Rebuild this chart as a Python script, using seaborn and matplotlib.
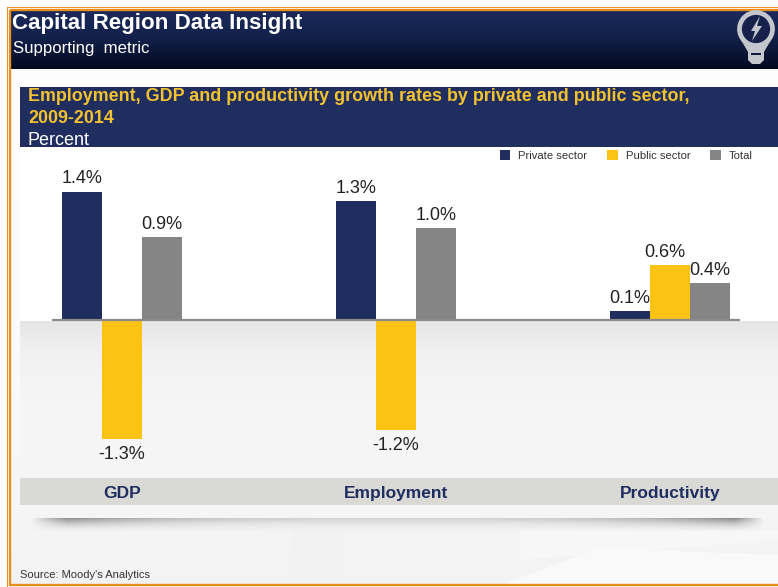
import numpy as np
import pandas as pd
import matplotlib
matplotlib.use("Agg")
import matplotlib.pyplot as plt
from matplotlib.patches import Rectangle, Circle, Polygon
import seaborn as sns

# Values
categories = ["GDP", "Employment", "Productivity"]
sectors = ["Private sector", "Public sector", "Total"]
private_sector = [1.4, 1.3, 0.1]
public_sector = [-1.3, -1.2, 0.6]
total = [0.9, 1.0, 0.4]
colors = ["#1f2d5f", "#fcc214", "#858585"]

df = pd.DataFrame({
    "category": categories * 3,
    "sector": [sectors[0]] * 3 + [sectors[1]] * 3 + [sectors[2]] * 3,
    "value": private_sector + public_sector + total,
})

sns.set_style("white")
plt.rcParams["font.family"] = ["Liberation Sans", "DejaVu Sans"]

W, H = 778, 587
fig = plt.figure(figsize=(W / 100, H / 100), dpi=100)
fig.patch.set_facecolor("white")

# Background layer in pixel coordinates
bg = fig.add_axes([0, 0, 1, 1], zorder=0)
bg.set_xlim(0, W)
bg.set_ylim(H, 0)
bg.axis("off")


def vgrad(ax, x0, x1, y0, y1, stops, z=1):
    ys = np.linspace(0, 1, 200)
    pos = [s[0] for s in stops]
    rgb = np.array([matplotlib.colors.to_rgb(s[1]) for s in stops])
    img = np.stack([np.interp(ys, pos, rgb[:, i]) for i in range(3)], axis=1)[:, None, :]
    ax.imshow(img, extent=(x0, x1, y1, y0), aspect="auto", zorder=z, interpolation="bilinear")


# page body
vgrad(bg, 11, W, 69, 585, [(0, "#fdfdfd"), (0.5, "#fbfbfb"), (1, "#f3f3f3")])
# plot panel: white on top, grey fade under the zero line
bg.add_patch(Rectangle((20, 147), W - 20, 174, fc="white", ec="none", zorder=2))
vgrad(bg, 20, W, 321, 478, [(0, "#e6e6e6"), (0.2, "#f1f1f1"), (0.5, "#f5f5f5"), (1, "#f6f6f6")], z=2)
# faint texture in the lower part
bg.add_patch(Polygon([[290, 530], [345, 530], [345, 585], [290, 585]], fc="#f2f2f2", ec="none", zorder=3))
bg.add_patch(Polygon([[520, 530], [778, 530], [778, 540], [520, 560]], fc="#f7f7f7", ec="none", zorder=3))
bg.add_patch(Polygon([[500, 585], [600, 548], [778, 555], [778, 585]], fc="#f9f9f9", ec="none", zorder=3))

# category strip and the shadow below it
bg.add_patch(Rectangle((20, 478), W - 20, 27, fc="#d9d9d6", ec="none", zorder=4))
bg.add_patch(Rectangle((20, 505), W - 20, 13, fc="#f5f5f5", ec="none", zorder=4))
ys = np.linspace(0, 1, 40)
xs = np.linspace(0, 1, 300)
edge = np.clip(xs / 0.05, 0, 1) * np.clip((1 - xs) / 0.04, 0, 1)
alpha = np.outer((1 - ys) ** 2, edge * (0.18 + 0.5 * np.abs(2 * xs - 1) ** 3))
shadow = np.zeros((40, 300, 4))
shadow[..., :3] = 0.2
shadow[..., 3] = alpha
bg.imshow(shadow, extent=(30, 765, 534, 518), aspect="auto", zorder=5)

# header bands
vgrad(bg, 11, W, 10, 69, [(0, "#1b2a5c"), (0.45, "#14214b"), (1, "#020a20")], z=6)
bg.add_patch(Rectangle((20, 87), W - 20, 60, fc="#1f2d5f", ec="none", zorder=6))

# orange frame
bg.add_patch(Rectangle((10, 10), W + 20, 575, fc="none", ec="#e88e1c", lw=1.7, zorder=8))
bg.plot([7, W], [6.8, 6.8], color="#e88e1c", lw=0.7, zorder=8)
bg.plot([7, 7], [6.8, H], color="#e88e1c", lw=0.7, zorder=8)

# light bulb icon
icon = "#c3c6cc"
bg.add_patch(Polygon([[741, 40], [771, 40], [764, 52], [764, 60], [760, 64], [752, 64], [748, 60], [748, 52]],
                     fc=icon, ec="none", zorder=9))
bg.add_patch(Circle((756, 29), 16.5, fc="#16224c", ec=icon, lw=3.4, zorder=9))
bg.add_patch(Rectangle((751, 52.5), 10, 2.5, fc="#10193a", ec="none", zorder=10))
bg.add_patch(Polygon([[760, 16], [751, 31], [755, 31], [752, 41], [762, 26], [757, 26]], fc=icon, ec="none", zorder=10))

bg.set_xlim(0, W)
bg.set_ylim(H, 0)

# Header text
bg.text(12, 23, "Capital Region Data Insight", color="white", fontsize=16.1, fontweight="bold", va="center", zorder=11)
bg.text(13, 48, "Supporting  metric", color="white", fontsize=12.1, va="center", zorder=11)
bg.text(28, 101, "Employment, GDP and productivity growth rates by private and public sector,",
        color="#f2c230", fontsize=12.85, fontweight="bold", va="baseline", zorder=11)
bg.text(28, 123, "2009-2014", color="#f2c230", fontsize=12.85, fontweight="bold", va="baseline", zorder=11)
bg.text(28, 145, "Percent", color="white", fontsize=13, va="baseline", zorder=11)
bg.text(20, 575, "Source: Moody's Analytics", color="#333333", fontsize=8, va="center", zorder=11)

# Bars
ax = fig.add_axes([52 / W, 1 - 478 / H, (740 - 52) / W, (478 - 148) / H], zorder=2)
ax.patch.set_alpha(0)
sns.barplot(data=df, x="category", y="value", hue="sector", order=categories, hue_order=sectors,
            palette=colors, saturation=1, width=0.438, gap=0, errorbar=None, linewidth=0, ax=ax)
ax.set_xlim(-0.2555, 2.2555)
ax.set_ylim(-1.723, 1.876)
sns.despine(ax=ax, left=True, bottom=True)
ax.set_xlabel("")
ax.set_ylabel("")
ax.set_yticks([])
ax.tick_params(axis="x", length=0, pad=6)
for lab in ax.get_xticklabels():
    lab.set_fontsize(12.5)
    lab.set_fontweight("bold")
    lab.set_color("#1f2d5f")
ax.axhline(0, color="#8a8a8a", lw=1.6, zorder=5)

for cont in ax.containers:
    labels = ax.bar_label(cont, fmt="%.1f%%", padding=3, fontsize=13, color="#222222")
    for t, bar in zip(labels, cont):
        if bar.get_height() < 0:
            t.xyann = (0, -5)

# the 0.6% label sits a bit left of its bar
for t in ax.texts:
    if t.get_text() == "0.6%":
        t.xyann = (-4, 3)

ax.legend(loc="upper right", bbox_to_anchor=(1.026, 1.012), ncols=3, frameon=False, fontsize=8.1,
          handlelength=0.95, handleheight=1.05, handletextpad=0.7, columnspacing=1.75,
          labelcolor="#333333", borderpad=0)

fig.savefig("out.png", dpi=100)
